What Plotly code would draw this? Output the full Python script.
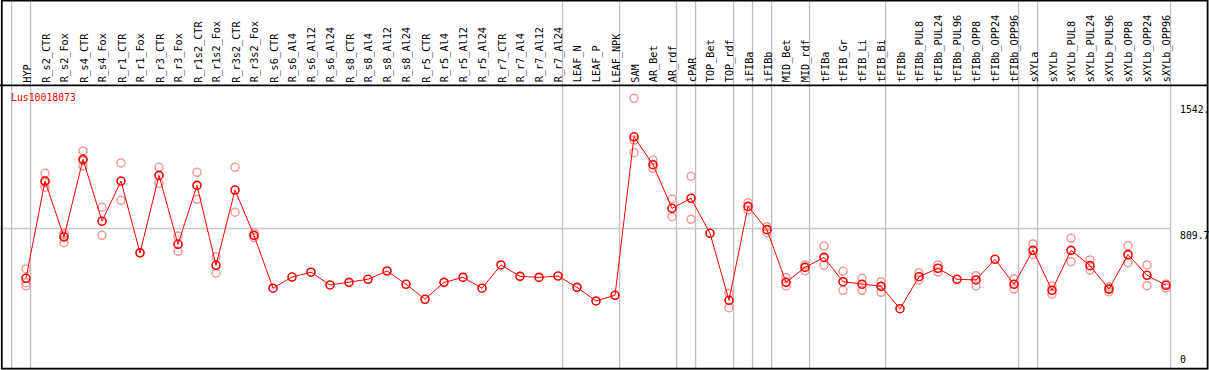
import plotly.graph_objects as go

# ---------------- data ----------------
gene = "Lus10018073"

categories = [
    "HYP", "R_s2_CTR", "R_s2_Fox", "R_s4_CTR", "R_s4_Fox", "R_r1_CTR", "R_r1_Fox",
    "R_r3_CTR", "R_r3_Fox", "R_r1s2_CTR", "R_r1s2_Fox", "R_r3s2_CTR", "R_r3s2_Fox",
    "R_s6_CTR", "R_s6_Al4", "R_s6_Al12", "R_s6_Al24", "R_s8_CTR", "R_s8_Al4",
    "R_s8_Al12", "R_s8_Al24", "R_r5_CTR", "R_r5_Al4", "R_r5_Al12", "R_r5_Al24",
    "R_r7_CTR", "R_r7_Al4", "R_r7_Al12", "R_r7_Al24", "LEAF_N", "LEAF_P", "LEAF_NPK",
    "SAM", "AR_Bet", "AR_rdf", "cPAR", "TOP_Bet", "TOP_rdf", "iFIBa", "iFIBb",
    "MID_Bet", "MID_rdf", "tFIBa", "tFIB_Gr", "tFIB_Li", "tFIB_Bi", "tFIBb",
    "tFIBb_PUL8", "tFIBb_PUL24", "tFIBb_PUL96", "tFIBb_OPP8", "tFIBb_OPP24",
    "tFIBb_OPP96", "sXYLa", "sXYLb", "sXYLb_PUL8", "sXYLb_PUL24", "sXYLb_PUL96",
    "sXYLb_OPP8", "sXYLb_OPP24", "sXYLb_OPP96",
]

mean_values = [
    521, 1085, 760, 1211, 852, 1085, 668, 1118, 718, 1060, 596, 1033, 770,
    463, 528, 556, 482, 497, 515, 563, 486, 399, 497, 526, 463, 598, 532, 526,
    534, 468, 389, 422,
    1342, 1180, 927, 985, 782, 393, 938, 803, 497, 584, 642, 501, 486, 474, 344,
    530, 579, 515, 511, 631, 486, 683, 451, 683, 594, 458, 658, 538, 480,
]

rep_categories = [
    "HYP", "HYP", "HYP",
    "R_s2_CTR", "R_s2_CTR", "R_s2_CTR",
    "R_s2_Fox", "R_s2_Fox", "R_s2_Fox",
    "R_s4_CTR", "R_s4_CTR", "R_s4_CTR",
    "R_s4_Fox", "R_s4_Fox",
    "R_r1_CTR", "R_r1_CTR",
    "R_r3_CTR", "R_r3_CTR",
    "R_r3_Fox", "R_r3_Fox",
    "R_r1s2_CTR", "R_r1s2_CTR",
    "R_r1s2_Fox", "R_r1s2_Fox",
    "R_r3s2_CTR", "R_r3s2_CTR",
    "R_r3s2_Fox", "R_r3s2_Fox",
    "SAM", "SAM", "SAM",
    "AR_Bet", "AR_Bet",
    "AR_rdf", "AR_rdf",
    "cPAR", "cPAR",
    "TOP_rdf", "TOP_rdf",
    "iFIBa", "iFIBa",
    "iFIBb", "iFIBb",
    "MID_Bet", "MID_Bet",
    "MID_rdf", "MID_rdf",
    "tFIBa", "tFIBa",
    "tFIB_Gr", "tFIB_Gr",
    "tFIB_Li", "tFIB_Li",
    "tFIB_Bi", "tFIB_Bi",
    "tFIBb_PUL8", "tFIBb_PUL8",
    "tFIBb_PUL24", "tFIBb_PUL24",
    "tFIBb_OPP8", "tFIBb_OPP8",
    "tFIBb_OPP96", "tFIBb_OPP96",
    "sXYLa", "sXYLa",
    "sXYLb", "sXYLb",
    "sXYLb_PUL8", "sXYLb_PUL8",
    "sXYLb_PUL24", "sXYLb_PUL24",
    "sXYLb_PUL96", "sXYLb_PUL96",
    "sXYLb_OPP8", "sXYLb_OPP8",
    "sXYLb_OPP24", "sXYLb_OPP24",
    "sXYLb_OPP96", "sXYLb_OPP96",
]

rep_values = [
    575, 495, 476,
    1130, 1049, 1076,
    782, 727, 772,
    1260, 1172, 1202,
    933, 770,
    1190, 973,
    1165, 1072,
    766, 677,
    1136, 979,
    646, 550,
    1165, 904,
    785, 756,
    1565, 1323, 1250,
    1207, 1159,
    981, 878,
    1113, 863,
    434, 350,
    959, 917,
    820, 785,
    526, 476,
    598, 565,
    708, 596,
    561, 451,
    521, 451,
    501, 439,
    553, 511,
    598, 557,
    536, 476,
    517, 458,
    720, 658,
    476, 428,
    753, 617,
    627, 569,
    472, 443,
    710, 611,
    598, 478,
    488, 464,
]

# last category index of each group (group separators); -1 marks the left edge
group_last = [-1, 0, 28, 31, 34, 35, 37, 38, 39, 41, 45, 52, 53, 60]

grid_value = 809.7
tick_values = [1542.4, 809.7, 0]
tick_labels = ["1542.", "809.7", "0"]

# ---------------- layout geometry ----------------
W, H = 1209, 370
X0, DX = 26.0, 19.0          # pixel of first category and spacing
Y_ZERO, PX_PER_UNIT = 368.0, 1 / 5.8043
label_line_px = 85.3
sep_offset = 0.24

x_range = [(0 - X0) / DX, (W - X0) / DX]
y_range = [(Y_ZERO - H) / PX_PER_UNIT, (Y_ZERO - 0) / PX_PER_UNIT]


def paper_y(px):
    return (H - px) / H


def paper_x(px):
    return px / W


idx = {c: i for i, c in enumerate(categories)}
xs = list(range(len(categories)))
rep_x = [idx[c] for c in rep_categories]

mono = "DejaVu Sans Mono"

fig = go.Figure()

fig.add_trace(go.Scatter(
    x=rep_x, y=rep_values, mode="markers",
    marker=dict(symbol="circle-open", size=8, color="#ee9a9a", line=dict(width=1.5, color="#ee9a9a")),
    hoverinfo="skip", showlegend=False,
))

fig.add_trace(go.Scatter(
    x=xs, y=mean_values, mode="lines+markers",
    line=dict(color="#ff0000", width=1),
    marker=dict(symbol="circle-open", size=8, color="#ff0000", line=dict(width=1.6, color="#ff0000")),
    showlegend=False,
))

shapes = []
# group separators (full height incl. label area)
for g in group_last:
    xv = g + sep_offset
    shapes.append(dict(type="line", xref="x", yref="paper", x0=xv, x1=xv, y0=paper_y(368.5), y1=1,
                       line=dict(color="#c0c0c0", width=1.3), layer="below"))
# horizontal grid line
shapes.append(dict(type="line", xref="paper", yref="y", x0=0, x1=paper_x(1170.5),
                   y0=grid_value, y1=grid_value, line=dict(color="#c8c8c8", width=1.3), layer="below"))
# label area separator
shapes.append(dict(type="line", xref="paper", yref="paper", x0=0, x1=paper_x(1208),
                   y0=paper_y(label_line_px), y1=paper_y(label_line_px),
                   line=dict(color="black", width=1.8)))
# frame
shapes.append(dict(type="rect", xref="paper", yref="paper", x0=paper_x(1.8), x1=paper_x(1207.6),
                   y0=paper_y(368.6), y1=paper_y(0.6), line=dict(color="black", width=1.8),
                   fillcolor="rgba(0,0,0,0)"))

annotations = []
for i, c in enumerate(categories):
    annotations.append(dict(
        x=i + 0.06, xref="x", y=paper_y(83.6), yref="paper", text=c, textangle=-90,
        showarrow=False, xanchor="center", yanchor="bottom", borderpad=0,
        font=dict(family=mono, size=10.2, color="black"),
    ))

annotations.append(dict(
    x=paper_x(9.5), xref="paper", y=paper_y(97), yref="paper", text=gene, showarrow=False,
    xanchor="left", yanchor="middle", borderpad=0,
    font=dict(family=mono, size=9.8, color="#ff0000"),
))

for v, t in zip(tick_values, tick_labels):
    anchor = "bottom" if v == 0 else "top"
    annotations.append(dict(
        x=paper_x(1178.5), xref="paper", y=v, yref="y", text=t, showarrow=False,
        xanchor="left", yanchor=anchor, borderpad=0, yshift=(2 if v == 0 else -0.5),
        font=dict(family=mono, size=9.8, color="black"),
    ))

fig.update_layout(
    width=W, height=H, autosize=False,
    margin=dict(l=0, r=0, t=0, b=0, pad=0),
    paper_bgcolor="white", plot_bgcolor="white",
    xaxis=dict(range=x_range, visible=False, fixedrange=True),
    yaxis=dict(range=y_range, visible=False, fixedrange=True),
    shapes=shapes, annotations=annotations,
    showlegend=False,
)

fig.write_html(
    "out.html",
    config={"displayModeBar": False},
    post_script="document.body.style.margin='0';document.body.style.padding='0';"
                "document.body.style.overflow='hidden';",
)
